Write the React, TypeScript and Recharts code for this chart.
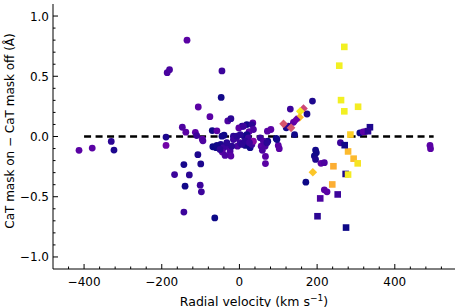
import React from 'react';
import { ScatterChart, Scatter, XAxis, YAxis, ReferenceLine, Label } from 'recharts';

// circles: radial velocity, CaT difference, colour value
const circleX = [
  -413, -379, -330, -323, -189, -189, -186, -180, -135, -147, -138, -113.5, -110, -106, -95.5, -94,
  -107, -99.6, -143, -167, -129, -140, -101, -98, -143, -63.5, -76, -45, -47, -70, -58, -30, -22,
  -39.5, -45, -15.5, -8.5, 7, -1.5, 19, 25, 34.5, 12, 19, 23, -68.5, -60, -48, -41, -44, -28.5, -24,
  -22, -5, 2, 15, 27.5, 32, 36, 53.5, 56, 59, 67, 67, 73, 72, 81, 94.7, 100, 102.5, 131, 142, 139,
  120.5, 126, 174, 188, -58, -50, -37, -32.5, -19.6, -15.5, -6.7, 2, 10.3, 32, 36, 6, 14.7, 25.8,
  62, 66, 70.7, 96.5, 171, 196, 198, 193, 196, 210, 218.6, 218.6, 225.5, 260, 310, 318.5, 324.4,
  490.6, 492,
];
const circleY = [
  -0.115, -0.096, -0.041, -0.113, -0.005, -0.074, 0.53, 0.555, 0.8, 0.077, 0.036, 0.035, 0.008, 0.245, -0.022, -0.036,
  -0.151, -0.228, -0.233, -0.316, -0.319, -0.412, -0.404, -0.459, -0.627, -0.676, 0.165, 0.544, 0.324, 0.049, 0.047, 0.129, 0.148,
  0.011, 0.003, 0.003, -0.014, 0.085, 0.071, 0.099, 0.041, 0.113, 0.003, 0.016, -0.011, -0.085, -0.093, -0.066, -0.093, -0.129, -0.085, -0.121,
  -0.162, -0.08, -0.052, -0.074, -0.093, -0.066, -0.039, -0.011, -0.08, -0.115, -0.165, -0.225, -0.039, 0.044, 0.058, -0.016, -0.074, -0.101, 0.228, 0.016, 0.118,
  0.072, 0.085, 0.187, 0.294, -0.074, -0.107, -0.157, -0.052, -0.08, -0.025, 0.003, 0.016, 0.085, 0.099, 0.058, -0.066, -0.039, -0.052,
  -0.039, -0.08, -0.052, -0.025, -0.379, -0.113, -0.134, -0.162, -0.19, -0.223, -0.217, -0.443, -0.459, -0.052, 0.03, 0.039, 0.041,
  -0.074, -0.101,
];
const circleC = [
  0.16, 0.16, 0.06, 0.03, 0.03, 0.22, 0.12, 0.12, 0.16, 0.13, 0.16, 0.16, 0.09, 0.16, 0.16, 0.13,
  0.03, 0.03, 0.02, 0.09, 0.06, 0.01, 0.09, 0.09, 0.09, 0.0, 0.16, 0.09, 0.01, 0.01, 0.16, 0.13, 0.06,
  0.0, 0.01, 0.06, 0.13, 0.01, 0.17, 0.01, 0.16, 0.16, 0.03, 0.01, 0.09, 0.0, 0.0, 0.03, 0.09, 0.16, 0.09, 0.13,
  0.16, 0.13, 0.09, 0.01, 0.01, 0.09, 0.28, 0.09, 0.16, 0.13, 0.16, 0.16, 0.01, 0.16, 0.16, 0.0, 0.16, 0.16, 0.09, 0.01, 0.17,
  0.01, 0.06, 0.03, 0.03, 0.01, 0.06, 0.13, 0.06, 0.06, 0.09, 0.06, 0.06, 0.09, 0.06, 0.13, 0.06, 0.06, 0.09,
  0.13, 0.13, 0.06, 0.01, 0.0, 0.01, 0.01, 0.01, 0.03, 0.16, 0.13, 0.16, 0.16, 0.09, 0.0, 0.16, 0.16,
  0.16, 0.16,
];

const squareX = [270, 257, 261.6, 270, 305.5, 285.7, 279.7, 294, 304.5, 242, 239, 273.5, 279.7, 208, 253, 201, 274.5, 271, 336, 331];
const squareY = [0.744, 0.588, 0.302, 0.209, 0.247, 0.016, -0.124, -0.184, -0.223, -0.247, -0.398, -0.311, -0.316, -0.514, -0.481, -0.662, -0.756, -0.072, 0.077, 0.044];
const squareC = [0.98, 0.98, 0.98, 0.98, 0.97, 0.9, 0.85, 0.85, 0.95, 0.82, 0.82, 0.03, 0.97, 0.13, 0.09, 0.06, 0.0, 0.01, 0.03, 0.06];

const diamondX = [113.5, 133, 165, 156.6, 155, 189, 146];
const diamondY = [0.105, 0.072, 0.233, 0.209, 0.159, -0.297, 0.14];
const diamondC = [0.55, 0.55, 0.5, 0.97, 0.85, 0.88, 0.2];

const xMajorTicks = [-400, -200, 0, 200, 400];
const xMinorTicks = [-440, -360, -320, -280, -240, -160, -120, -80, -40, 40, 80, 120, 160, 240, 280, 320, 360, 440, 480, 520];
const yMajorTicks = [-1.0, -0.5, 0.0, 0.5, 1.0];
const yMinorTicks = [-0.9, -0.8, -0.7, -0.6, -0.4, -0.3, -0.2, -0.1, 0.1, 0.2, 0.3, 0.4, 0.6, 0.7, 0.8, 0.9];

const X_DOMAIN: [number, number] = [-480, 555];
const Y_DOMAIN: [number, number] = [-1.1, 1.1];

const PLASMA = ['#0d0887', '#41049d', '#6a00a8', '#8f0da4', '#b12a90', '#cc4778', '#e16462', '#f2844b', '#fca636', '#fcce25', '#f0f921'];

const hexToRgb = (h: string) => [1, 3, 5].map((i) => parseInt(h.slice(i, i + 2), 16));

const plasma = (t: number) => {
  const v = Math.max(0, Math.min(1, t)) * (PLASMA.length - 1);
  const i = Math.min(Math.floor(v), PLASMA.length - 2);
  const f = v - i;
  const a = hexToRgb(PLASMA[i]);
  const b = hexToRgb(PLASMA[i + 1]);
  const c = a.map((ai, k) => Math.round(ai + (b[k] - ai) * f));
  return `rgb(${c[0]},${c[1]},${c[2]})`;
};

const zip = (xs: number[], ys: number[], cs: number[]) => xs.map((x, i) => ({ x, y: ys[i], c: cs[i] }));
const circles = zip(circleX, circleY, circleC);
const squares = zip(squareX, squareY, squareC);
const diamonds = zip(diamondX, diamondY, diamondC);

const allXTicks = [...xMajorTicks, ...xMinorTicks];
const allYTicks = [...yMajorTicks, ...yMinorTicks];

const FONT = 'DejaVu Sans';
const fmt = (v: number) => (Math.abs(v) < 1e-9 ? '0' : String(v)).replace('-', '\u2212');
const fmtY = (v: number) => (Math.abs(v) < 1e-9 ? '0.0' : v.toFixed(1)).replace('-', '\u2212');

const XTick = (props: any) => {
  const { x, y, payload, side } = props;
  const major = xMajorTicks.includes(payload.value);
  const len = major ? 5 : 2.5;
  const dir = side === 'bottom' ? -1 : 1;
  return (
    <g>
      <line x1={x} x2={x} y1={y} y2={y + dir * len} stroke="#000" strokeWidth={1} />
      {side === 'bottom' && major && (
        <text x={x} y={y + 17} textAnchor="middle" fontSize={12} fontFamily={FONT} fill="#000">
          {fmt(payload.value)}
        </text>
      )}
    </g>
  );
};

const YTick = (props: any) => {
  const { x, y, payload, side } = props;
  const major = yMajorTicks.some((t) => Math.abs(t - payload.value) < 1e-9);
  const len = major ? 5 : 2.5;
  const dir = side === 'left' ? 1 : -1;
  return (
    <g>
      <line x1={x} x2={x + dir * len} y1={y} y2={y} stroke="#000" strokeWidth={1} />
      {side === 'left' && major && (
        <text x={x - 4} y={y + 4.5} textAnchor="end" fontSize={12} fontFamily={FONT} fill="#000">
          {fmtY(payload.value)}
        </text>
      )}
    </g>
  );
};

const CircleDot = (p: any) => <circle cx={p.cx} cy={p.cy} r={3.4} fill={plasma(p.payload.c)} />;
const SquareDot = (p: any) => <rect x={p.cx - 3.3} y={p.cy - 3.3} width={6.6} height={6.6} fill={plasma(p.payload.c)} />;
const DiamondDot = (p: any) => (
  <polygon
    points={`${p.cx},${p.cy - 4.3} ${p.cx + 4.3},${p.cy} ${p.cx},${p.cy + 4.3} ${p.cx - 4.3},${p.cy}`}
    fill={plasma(p.payload.c)}
  />
);

const XLabel = (props: any) => {
  const vb = props.viewBox;
  return (
    <text x={vb.x + vb.width / 2} y={vb.y + 36.5} textAnchor="middle" fontSize={12.5} fontFamily={FONT} fill="#000">
      <tspan>Radial velocity (km s</tspan>
      <tspan dy={-5} fontSize={9}>{'\u22121'}</tspan>
      <tspan dy={5}>)</tspan>
    </text>
  );
};

const YLabel = () => (
  <text
    x={13.5}
    y={131}
    transform="rotate(-90, 13.5, 131)"
    textAnchor="middle"
    fontSize={12}
    fontFamily={FONT}
    fill="#000"
  >
    CaT mask on {'\u2212'} CaT mask off (Å)
  </text>
);

const App: React.FC = () => (
  <div style={{ position: 'absolute', left: 0, top: 0, width: 460, height: 307, background: '#fff' }}>
    <ScatterChart width={460} height={307} margin={{ top: 4, right: 5, bottom: 0, left: 0 }}>
      <XAxis
        dataKey="x"
        type="number"
        domain={X_DOMAIN}
        ticks={allXTicks}
        interval={0}
        height={38}
        tickSize={0}
        tickMargin={0}
        tickLine={false}
        axisLine={{ stroke: '#000' }}
        tick={(p: any) => <XTick {...p} side="bottom" />}
      >
        <Label content={XLabel} />
      </XAxis>
      <XAxis
        xAxisId="top"
        orientation="top"
        type="number"
        domain={X_DOMAIN}
        allowDataOverflow
        ticks={allXTicks}
        interval={0}
        height={0}
        tickSize={0}
        tickMargin={0}
        tickLine={false}
        axisLine={{ stroke: '#000' }}
        tick={(p: any) => <XTick {...p} side="top" />}
      />
      <YAxis
        dataKey="y"
        type="number"
        domain={Y_DOMAIN}
        ticks={allYTicks}
        interval={0}
        width={53}
        tickSize={0}
        tickMargin={0}
        tickLine={false}
        axisLine={{ stroke: '#000' }}
        tick={(p: any) => <YTick {...p} side="left" />}
      >
        <Label content={YLabel} />
      </YAxis>
      <YAxis
        yAxisId="right"
        orientation="right"
        type="number"
        domain={Y_DOMAIN}
        allowDataOverflow
        ticks={allYTicks}
        interval={0}
        width={0}
        tickSize={0}
        tickMargin={0}
        tickLine={false}
        axisLine={{ stroke: '#000' }}
        tick={(p: any) => <YTick {...p} side="right" />}
      />
      <Scatter data={circles} shape={CircleDot} isAnimationActive={false} />
      <Scatter data={squares} shape={SquareDot} isAnimationActive={false} />
      <Scatter data={diamonds} shape={DiamondDot} isAnimationActive={false} />
      <ReferenceLine
        segment={[{ x: -400, y: 0 }, { x: 500, y: 0 }]}
        stroke="#000"
        strokeWidth={2.5}
        strokeDasharray="7 4.5"
      />
    </ScatterChart>
  </div>
);

export default App;
